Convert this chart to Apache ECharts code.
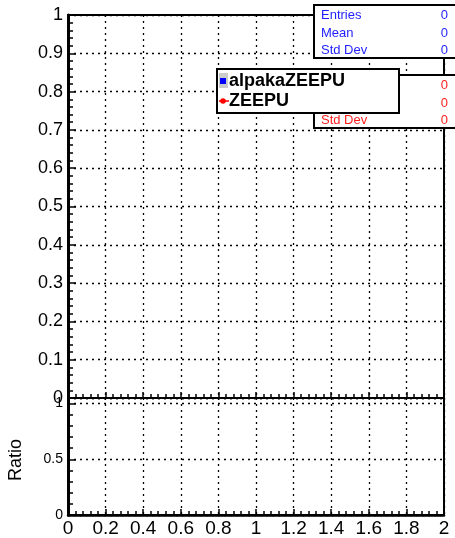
<!DOCTYPE html>
<html>
<head>
<meta charset="utf-8">
<script src="https://cdn.jsdelivr.net/npm/echarts@6/dist/echarts.min.js"></script>
<style>html,body{margin:0;padding:0;background:#fff}#c{width:455px;height:538px}</style>
</head>
<body>
<div id="c"></div>
<script>
// ---- data ----
const seriesNames = ['alpakaZEEPU', 'ZEEPU'];
const alpakaValues = [];   // empty histogram
const zeepuValues = [];    // empty histogram
const ratioValues = [];    // empty ratio
const statLabels = ['Entries', 'Mean', 'Std Dev'];
const alpakaStats = [0, 0, 0];
const zeepuStats = [0, 0, 0];
const xRange = [0, 2];
const topYRange = [0, 1];
const ratioYRange = [0, 1.05];
const ratioTicks = [0, 0.5, 1];

const FONT = 'Liberation Sans, Arial, sans-serif';
const chart = echarts.init(document.getElementById('c'), null, {renderer: 'canvas'});

const gridLine = {show: true, lineStyle: {color: '#000', type: [2, 4], width: 1.3}};
const fmt = v => {
  const r = Math.round(v * 100) / 100;
  return String(r);
};

const blue = '#1e1eff';
const red = '#ff1e1e';

function statGraphics(x0, y0, color, vals) {
  const g = [];
  g.push({type: 'rect', shape: {x: x0, y: y0, width: 160, height: 53},
    style: {fill: '#fff', stroke: '#000', lineWidth: 2}, z: 10});
  const ys = [y0 + 10, y0 + 28, y0 + 45];
  statLabels.forEach((l, i) => {
    g.push({type: 'text', x: x0 + 7, y: ys[i], z: 11,
      style: {text: l, fill: color, font: '13px ' + FONT, textVerticalAlign: 'middle'}});
    g.push({type: 'text', x: 448, y: ys[i], z: 11,
      style: {text: String(vals[i]), fill: color, font: '13px ' + FONT, textAlign: 'right', textVerticalAlign: 'middle'}});
  });
  return g;
}

const graphics = [].concat(
  statGraphics(314, 5, blue, alpakaStats),
  statGraphics(314, 75, red, zeepuStats),
  [
    {type: 'rect', shape: {x: 217, y: 69, width: 182, height: 44},
      style: {fill: '#fff', stroke: '#000', lineWidth: 2}, z: 20},
    {type: 'rect', shape: {x: 219, y: 73, width: 9, height: 15},
      style: {fill: '#cccccc'}, z: 21},
    {type: 'rect', shape: {x: 220, y: 78, width: 6, height: 6},
      style: {fill: '#0000ff'}, z: 22},
    {type: 'line', shape: {x1: 219, y1: 101, x2: 229, y2: 101},
      style: {stroke: '#ff0000', lineWidth: 1.5}, z: 21},
    {type: 'circle', shape: {cx: 223, cy: 101, r: 2.8},
      style: {fill: '#ff0000'}, z: 22},
    {type: 'text', x: 229, y: 81, z: 22,
      style: {text: seriesNames[0], fill: '#000', font: 'bold 18px ' + FONT, textVerticalAlign: 'middle'}},
    {type: 'text', x: 229, y: 101, z: 22,
      style: {text: seriesNames[1], fill: '#000', font: 'bold 18px ' + FONT, textVerticalAlign: 'middle'}},
    {type: 'text', x: 16, y: 460, rotation: Math.PI / 2, z: 5,
      style: {text: 'Ratio', fill: '#000', font: '18px ' + FONT, textAlign: 'center', textVerticalAlign: 'middle'}}
  ]
);

const option = {
  animation: false,
  backgroundColor: '#fff',
  grid: [
    {left: 68, top: 15, width: 376, height: 383, show: true, borderColor: '#000', borderWidth: 2, backgroundColor: 'transparent'},
    {left: 68, top: 398, width: 376, height: 118, show: true, borderColor: '#000', borderWidth: 2, backgroundColor: 'transparent'}
  ],
  xAxis: [
    {type: 'value', gridIndex: 0, min: xRange[0], max: xRange[1], interval: 0.2,
      axisLine: {show: true, onZero: false, lineStyle: {color: '#000', width: 2}},
      axisTick: {show: true, inside: true, length: 6, lineStyle: {color: '#000', width: 1.5}},
      minorTick: {show: true, splitNumber: 5, length: 4, lineStyle: {color: '#000', width: 1.5}},
      axisLabel: {show: false}, splitLine: gridLine},
    {type: 'value', gridIndex: 1, min: xRange[0], max: xRange[1], interval: 0.2,
      axisLine: {show: true, onZero: false, lineStyle: {color: '#000', width: 2.5}},
      axisTick: {show: true, inside: true, length: 6, lineStyle: {color: '#000', width: 1.5}},
      minorTick: {show: true, splitNumber: 5, length: 4, lineStyle: {color: '#000', width: 1.5}},
      axisLabel: {show: true, color: '#000', fontSize: 19, fontFamily: FONT, margin: 4, formatter: fmt},
      splitLine: gridLine}
  ],
  yAxis: [
    {type: 'value', gridIndex: 0, min: topYRange[0], max: topYRange[1], interval: 0.1,
      axisLine: {show: true, onZero: false, lineStyle: {color: '#000', width: 3}},
      axisTick: {show: true, inside: true, length: 8, lineStyle: {color: '#000', width: 1.5}},
      minorTick: {show: true, splitNumber: 5, length: 5, lineStyle: {color: '#000', width: 1.5}},
      axisLabel: {show: true, color: '#000', fontSize: 18, fontFamily: FONT, margin: 5, formatter: fmt},
      splitLine: gridLine},
    {type: 'value', gridIndex: 1, min: ratioYRange[0], max: ratioYRange[1], interval: 0.5,
      axisLine: {show: true, onZero: false, lineStyle: {color: '#000', width: 3}},
      axisTick: {show: true, inside: true, length: 8, lineStyle: {color: '#000', width: 1.5}},
      minorTick: {show: true, splitNumber: 5, length: 5, lineStyle: {color: '#000', width: 1.5}},
      axisLabel: {show: true, color: '#000', fontSize: 14, fontFamily: FONT, margin: 5, showMaxLabel: false,
        formatter: v => ratioTicks.includes(Math.round(v * 100) / 100) ? fmt(v) : ''},
      splitLine: gridLine}
  ],
  series: [
    {name: seriesNames[0], type: 'line', xAxisIndex: 0, yAxisIndex: 0, data: alpakaValues, itemStyle: {color: '#0000ff'}},
    {name: seriesNames[1], type: 'line', xAxisIndex: 0, yAxisIndex: 0, data: zeepuValues, itemStyle: {color: '#ff0000'}},
    {name: 'ratio', type: 'line', xAxisIndex: 1, yAxisIndex: 1, data: ratioValues}
  ],
  graphic: graphics
};
chart.setOption(option);
</script>
</body>
</html>
